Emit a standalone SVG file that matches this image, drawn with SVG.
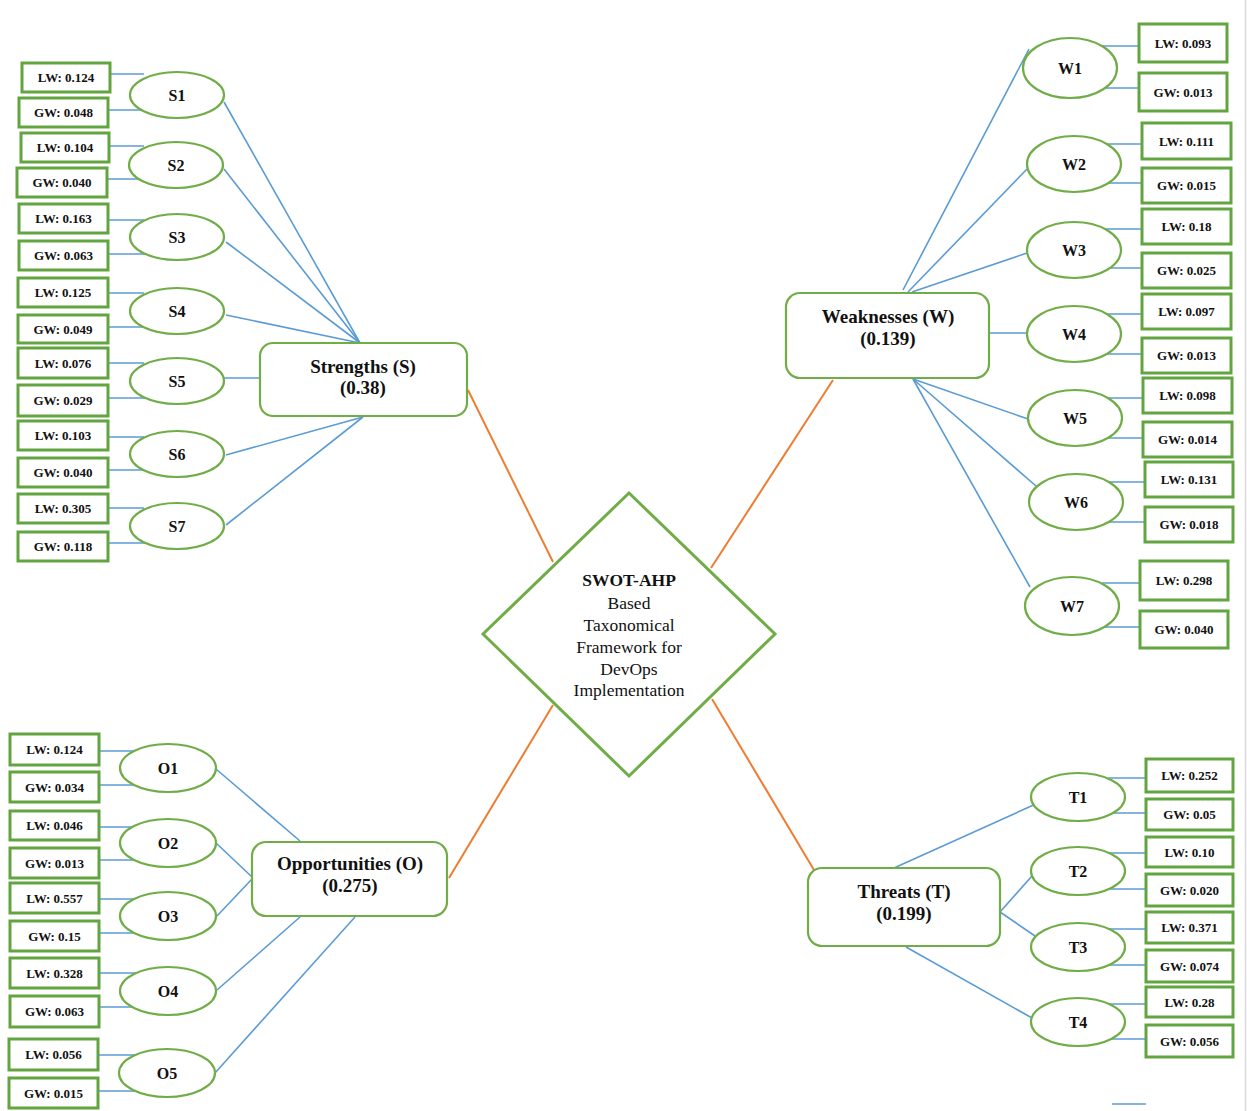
<svg xmlns="http://www.w3.org/2000/svg" width="1247" height="1111" viewBox="0 0 1247 1111">
<style>
.bg{fill:#fff}
.wb{fill:#fff;stroke:#62a540;stroke-width:3}
.wt{font-family:"Liberation Serif",serif;font-weight:bold;font-size:13px;fill:#111;text-anchor:middle}
.el{fill:#fff;stroke:#70AD47;stroke-width:2.2}
.et{font-family:"Liberation Serif",serif;font-weight:bold;font-size:16px;fill:#111;text-anchor:middle}
.mb{fill:#fff;stroke:#70AD47;stroke-width:2.2}
.mt{font-family:"Liberation Serif",serif;font-weight:bold;font-size:19px;fill:#111;text-anchor:middle}
.dt{font-family:"Liberation Serif",serif;font-size:17.5px;fill:#111;text-anchor:middle}
.bl{stroke:#5B9BD5;stroke-width:1.6;fill:none}
.or{stroke:#ED7D31;stroke-width:2;fill:none}
</style>
<rect class="bg" x="0" y="0" width="1247" height="1111"/>
<line x1="1245.5" y1="0" x2="1245.5" y2="1111" stroke="#d9d9d9" stroke-width="1.5"/>
<g id="connectors">
<line class="or" x1="468" y1="390" x2="553" y2="562"/>
<line class="or" x1="833" y1="380" x2="711" y2="568"/>
<line class="or" x1="553" y1="705" x2="449" y2="878"/>
<line class="or" x1="712" y1="699" x2="814" y2="870"/>
<line class="bl" x1="224" y1="102" x2="360" y2="343"/>
<line class="bl" x1="224" y1="169" x2="360" y2="343"/>
<line class="bl" x1="226" y1="242" x2="360" y2="343"/>
<line class="bl" x1="226" y1="315" x2="360" y2="343"/>
<line class="bl" x1="224" y1="378" x2="262" y2="378"/>
<line class="bl" x1="226" y1="455" x2="363" y2="417"/>
<line class="bl" x1="226" y1="525" x2="363" y2="417"/>
<line class="bl" x1="108" y1="74" x2="144" y2="74"/>
<line class="bl" x1="108" y1="110" x2="146" y2="110"/>
<line class="bl" x1="108" y1="146" x2="144" y2="146"/>
<line class="bl" x1="106" y1="179" x2="146" y2="179"/>
<line class="bl" x1="108" y1="220" x2="144" y2="220"/>
<line class="bl" x1="108" y1="254" x2="146" y2="254"/>
<line class="bl" x1="108" y1="293" x2="144" y2="293"/>
<line class="bl" x1="108" y1="327" x2="146" y2="327"/>
<line class="bl" x1="108" y1="363" x2="144" y2="363"/>
<line class="bl" x1="108" y1="398" x2="146" y2="398"/>
<line class="bl" x1="108" y1="437" x2="144" y2="437"/>
<line class="bl" x1="108" y1="470" x2="146" y2="470"/>
<line class="bl" x1="108" y1="508" x2="144" y2="508"/>
<line class="bl" x1="108" y1="543" x2="146" y2="543"/>
<line class="bl" x1="1029" y1="49" x2="903" y2="290"/>
<line class="bl" x1="1027" y1="169" x2="908" y2="292"/>
<line class="bl" x1="1027" y1="253" x2="912" y2="292"/>
<line class="bl" x1="1027" y1="333" x2="988" y2="333"/>
<line class="bl" x1="913" y1="379" x2="1031" y2="420"/>
<line class="bl" x1="913" y1="379" x2="1036" y2="486"/>
<line class="bl" x1="913" y1="379" x2="1030" y2="587"/>
<line class="bl" x1="1100" y1="46" x2="1139" y2="46"/>
<line class="bl" x1="1100" y1="88" x2="1139" y2="88"/>
<line class="bl" x1="1104" y1="144" x2="1142" y2="144"/>
<line class="bl" x1="1104" y1="183" x2="1142" y2="183"/>
<line class="bl" x1="1104" y1="229" x2="1142" y2="229"/>
<line class="bl" x1="1104" y1="268" x2="1142" y2="268"/>
<line class="bl" x1="1104" y1="314" x2="1142" y2="314"/>
<line class="bl" x1="1104" y1="354" x2="1142" y2="354"/>
<line class="bl" x1="1105" y1="398" x2="1143" y2="398"/>
<line class="bl" x1="1105" y1="438" x2="1143" y2="438"/>
<line class="bl" x1="1106" y1="482" x2="1145" y2="482"/>
<line class="bl" x1="1106" y1="522" x2="1145" y2="522"/>
<line class="bl" x1="1102" y1="583" x2="1140" y2="583"/>
<line class="bl" x1="1102" y1="627" x2="1140" y2="627"/>
<line class="bl" x1="216" y1="769" x2="300" y2="841"/>
<line class="bl" x1="216" y1="843" x2="252" y2="877"/>
<line class="bl" x1="217" y1="916" x2="252" y2="879"/>
<line class="bl" x1="217" y1="990" x2="300" y2="917"/>
<line class="bl" x1="215" y1="1073" x2="355" y2="917"/>
<line class="bl" x1="99" y1="751" x2="136" y2="751"/>
<line class="bl" x1="99" y1="785" x2="138" y2="785"/>
<line class="bl" x1="99" y1="827" x2="136" y2="827"/>
<line class="bl" x1="99" y1="860" x2="138" y2="860"/>
<line class="bl" x1="99" y1="899" x2="136" y2="899"/>
<line class="bl" x1="99" y1="933" x2="138" y2="933"/>
<line class="bl" x1="99" y1="973" x2="136" y2="973"/>
<line class="bl" x1="99" y1="1007" x2="138" y2="1007"/>
<line class="bl" x1="98" y1="1055" x2="135" y2="1055"/>
<line class="bl" x1="98" y1="1091" x2="137" y2="1091"/>
<line class="bl" x1="894" y1="868" x2="1038" y2="803"/>
<line class="bl" x1="1000" y1="912" x2="1032" y2="876"/>
<line class="bl" x1="1000" y1="912" x2="1035" y2="936"/>
<line class="bl" x1="906" y1="947" x2="1032" y2="1018"/>
<line class="bl" x1="1108" y1="778" x2="1146" y2="778"/>
<line class="bl" x1="1108" y1="813" x2="1146" y2="813"/>
<line class="bl" x1="1108" y1="853" x2="1146" y2="853"/>
<line class="bl" x1="1108" y1="889" x2="1146" y2="889"/>
<line class="bl" x1="1108" y1="929" x2="1146" y2="929"/>
<line class="bl" x1="1108" y1="965" x2="1146" y2="965"/>
<line class="bl" x1="1108" y1="1004" x2="1146" y2="1004"/>
<line class="bl" x1="1108" y1="1039" x2="1146" y2="1039"/>
<line class="bl" x1="1112" y1="1104" x2="1146" y2="1104"/>
</g>

<g id="center">
<polygon points="629,493 775,634 629,776 483,634" fill="#fff" stroke="#70AD47" stroke-width="3"/>
<text class="dt" x="629" y="586" font-weight="bold" font-size="18.5">SWOT-AHP</text>
<text class="dt" x="629" y="609">Based</text>
<text class="dt" x="629" y="631">Taxonomical</text>
<text class="dt" x="629" y="653">Framework for</text>
<text class="dt" x="629" y="675">DevOps</text>
<text class="dt" x="629" y="696">Implementation</text>
</g>

<g id="strengths"><rect class="mb" x="260" y="343" width="207" height="73" rx="13"/><text class="mt" x="363" y="373">Strengths (S)</text><text class="mt" x="363" y="394">(0.38)</text></g>
<g id="weaknesses"><rect class="mb" x="786" y="293" width="203" height="85" rx="14"/><text class="mt" x="888" y="323">Weaknesses (W)</text><text class="mt" x="888" y="345">(0.139)</text></g>
<g id="opportunities"><rect class="mb" x="252" y="842" width="195" height="74" rx="14"/><text class="mt" x="350" y="870">Opportunities (O)</text><text class="mt" x="350" y="892">(0.275)</text></g>
<g id="threats"><rect class="mb" x="808" y="868" width="192" height="78" rx="14"/><text class="mt" x="904" y="898">Threats (T)</text><text class="mt" x="904" y="920">(0.199)</text></g>

<g id="S1"><ellipse class="el" cx="177" cy="95" rx="47" ry="23"/><text class="et" x="177" y="101">S1</text></g>
<g id="S2"><ellipse class="el" cx="176" cy="165" rx="47" ry="23"/><text class="et" x="176" y="171">S2</text></g>
<g id="S3"><ellipse class="el" cx="177" cy="237" rx="47" ry="23"/><text class="et" x="177" y="243">S3</text></g>
<g id="S4"><ellipse class="el" cx="177" cy="311" rx="47" ry="23"/><text class="et" x="177" y="317">S4</text></g>
<g id="S5"><ellipse class="el" cx="177" cy="381" rx="47" ry="23"/><text class="et" x="177" y="387">S5</text></g>
<g id="S6"><ellipse class="el" cx="177" cy="454" rx="47" ry="23"/><text class="et" x="177" y="460">S6</text></g>
<g id="S7"><ellipse class="el" cx="177" cy="526" rx="47" ry="23"/><text class="et" x="177" y="532">S7</text></g>

<g id="W1"><ellipse class="el" cx="1070" cy="68" rx="47" ry="30"/><text class="et" x="1070" y="74">W1</text></g>
<g id="W2"><ellipse class="el" cx="1074" cy="164" rx="47" ry="28"/><text class="et" x="1074" y="170">W2</text></g>
<g id="W3"><ellipse class="el" cx="1074" cy="250" rx="47" ry="28"/><text class="et" x="1074" y="256">W3</text></g>
<g id="W4"><ellipse class="el" cx="1074" cy="334" rx="47" ry="28"/><text class="et" x="1074" y="340">W4</text></g>
<g id="W5"><ellipse class="el" cx="1075" cy="418" rx="47" ry="28"/><text class="et" x="1075" y="424">W5</text></g>
<g id="W6"><ellipse class="el" cx="1076" cy="502" rx="47" ry="28"/><text class="et" x="1076" y="508">W6</text></g>
<g id="W7"><ellipse class="el" cx="1072" cy="606" rx="47" ry="29"/><text class="et" x="1072" y="612">W7</text></g>

<g id="O1"><ellipse class="el" cx="168" cy="768" rx="48" ry="24"/><text class="et" x="168" y="774">O1</text></g>
<g id="O2"><ellipse class="el" cx="168" cy="843" rx="48" ry="24"/><text class="et" x="168" y="849">O2</text></g>
<g id="O3"><ellipse class="el" cx="168" cy="916" rx="48" ry="24"/><text class="et" x="168" y="922">O3</text></g>
<g id="O4"><ellipse class="el" cx="168" cy="991" rx="48" ry="24"/><text class="et" x="168" y="997">O4</text></g>
<g id="O5"><ellipse class="el" cx="167" cy="1073" rx="48" ry="24"/><text class="et" x="167" y="1079">O5</text></g>

<g id="T1"><ellipse class="el" cx="1078" cy="797" rx="47" ry="24"/><text class="et" x="1078" y="803">T1</text></g>
<g id="T2"><ellipse class="el" cx="1078" cy="871" rx="47" ry="24"/><text class="et" x="1078" y="877">T2</text></g>
<g id="T3"><ellipse class="el" cx="1078" cy="947" rx="47" ry="24"/><text class="et" x="1078" y="953">T3</text></g>
<g id="T4"><ellipse class="el" cx="1078" cy="1022" rx="47" ry="24"/><text class="et" x="1078" y="1028">T4</text></g>

<g id="S1-LW"><rect class="wb" x="22" y="63" width="88" height="29"/><text class="wt" x="66" y="82">LW: 0.124</text></g>
<g id="S1-GW"><rect class="wb" x="19" y="98" width="89" height="29"/><text class="wt" x="63.5" y="117">GW: 0.048</text></g>
<g id="S2-LW"><rect class="wb" x="21" y="133" width="88" height="29"/><text class="wt" x="65" y="152">LW: 0.104</text></g>
<g id="S2-GW"><rect class="wb" x="17" y="168" width="90" height="29"/><text class="wt" x="62" y="187">GW: 0.040</text></g>
<g id="S3-LW"><rect class="wb" x="19" y="204" width="89" height="29"/><text class="wt" x="63.5" y="223">LW: 0.163</text></g>
<g id="S3-GW"><rect class="wb" x="19" y="241" width="89" height="29"/><text class="wt" x="63.5" y="260">GW: 0.063</text></g>
<g id="S4-LW"><rect class="wb" x="18" y="278" width="90" height="29"/><text class="wt" x="63" y="297">LW: 0.125</text></g>
<g id="S4-GW"><rect class="wb" x="18" y="315" width="90" height="28"/><text class="wt" x="63" y="333.5">GW: 0.049</text></g>
<g id="S5-LW"><rect class="wb" x="18" y="348" width="90" height="30"/><text class="wt" x="63" y="367.5">LW: 0.076</text></g>
<g id="S5-GW"><rect class="wb" x="18" y="385" width="90" height="31"/><text class="wt" x="63" y="405">GW: 0.029</text></g>
<g id="S6-LW"><rect class="wb" x="18" y="421" width="90" height="29"/><text class="wt" x="63" y="440">LW: 0.103</text></g>
<g id="S6-GW"><rect class="wb" x="18" y="458" width="90" height="29"/><text class="wt" x="63" y="477">GW: 0.040</text></g>
<g id="S7-LW"><rect class="wb" x="18" y="494" width="90" height="29"/><text class="wt" x="63" y="513">LW: 0.305</text></g>
<g id="S7-GW"><rect class="wb" x="18" y="532" width="90" height="29"/><text class="wt" x="63" y="551">GW: 0.118</text></g>

<g id="W1-LW"><rect class="wb" x="1139" y="24" width="88" height="38"/><text class="wt" x="1183" y="47.5">LW: 0.093</text></g>
<g id="W1-GW"><rect class="wb" x="1139" y="73" width="88" height="38"/><text class="wt" x="1183" y="96.5">GW: 0.013</text></g>
<g id="W2-LW"><rect class="wb" x="1142" y="123" width="89" height="36"/><text class="wt" x="1186.5" y="145.5">LW: 0.111</text></g>
<g id="W2-GW"><rect class="wb" x="1142" y="168" width="89" height="35"/><text class="wt" x="1186.5" y="190">GW: 0.015</text></g>
<g id="W3-LW"><rect class="wb" x="1142" y="209" width="89" height="35"/><text class="wt" x="1186.5" y="231">LW: 0.18</text></g>
<g id="W3-GW"><rect class="wb" x="1142" y="253" width="89" height="35"/><text class="wt" x="1186.5" y="275">GW: 0.025</text></g>
<g id="W4-LW"><rect class="wb" x="1142" y="294" width="89" height="35"/><text class="wt" x="1186.5" y="316">LW: 0.097</text></g>
<g id="W4-GW"><rect class="wb" x="1142" y="338" width="89" height="35"/><text class="wt" x="1186.5" y="360">GW: 0.013</text></g>
<g id="W5-LW"><rect class="wb" x="1143" y="378" width="89" height="35"/><text class="wt" x="1187.5" y="400">LW: 0.098</text></g>
<g id="W5-GW"><rect class="wb" x="1143" y="422" width="89" height="35"/><text class="wt" x="1187.5" y="444">GW: 0.014</text></g>
<g id="W6-LW"><rect class="wb" x="1145" y="462" width="88" height="35"/><text class="wt" x="1189" y="484">LW: 0.131</text></g>
<g id="W6-GW"><rect class="wb" x="1145" y="507" width="88" height="35"/><text class="wt" x="1189" y="529">GW: 0.018</text></g>
<g id="W7-LW"><rect class="wb" x="1140" y="561" width="88" height="39"/><text class="wt" x="1184" y="585">LW: 0.298</text></g>
<g id="W7-GW"><rect class="wb" x="1140" y="611" width="88" height="37"/><text class="wt" x="1184" y="634">GW: 0.040</text></g>

<g id="O1-LW"><rect class="wb" x="10" y="734" width="89" height="31"/><text class="wt" x="54.5" y="754">LW: 0.124</text></g>
<g id="O1-GW"><rect class="wb" x="10" y="772" width="89" height="30"/><text class="wt" x="54.5" y="791.5">GW: 0.034</text></g>
<g id="O2-LW"><rect class="wb" x="10" y="811" width="89" height="29"/><text class="wt" x="54.5" y="830">LW: 0.046</text></g>
<g id="O2-GW"><rect class="wb" x="10" y="848" width="89" height="30"/><text class="wt" x="54.5" y="867.5">GW: 0.013</text></g>
<g id="O3-LW"><rect class="wb" x="10" y="883" width="89" height="30"/><text class="wt" x="54.5" y="902.5">LW: 0.557</text></g>
<g id="O3-GW"><rect class="wb" x="10" y="921" width="89" height="30"/><text class="wt" x="54.5" y="940.5">GW: 0.15</text></g>
<g id="O4-LW"><rect class="wb" x="10" y="958" width="89" height="30"/><text class="wt" x="54.5" y="977.5">LW: 0.328</text></g>
<g id="O4-GW"><rect class="wb" x="10" y="996" width="89" height="31"/><text class="wt" x="54.5" y="1016">GW: 0.063</text></g>
<g id="O5-LW"><rect class="wb" x="9" y="1039" width="89" height="31"/><text class="wt" x="53.5" y="1059">LW: 0.056</text></g>
<g id="O5-GW"><rect class="wb" x="9" y="1078" width="89" height="30"/><text class="wt" x="53.5" y="1097.5">GW: 0.015</text></g>

<g id="T1-LW"><rect class="wb" x="1146" y="759" width="87" height="33"/><text class="wt" x="1189.5" y="780">LW: 0.252</text></g>
<g id="T1-GW"><rect class="wb" x="1146" y="799" width="87" height="31"/><text class="wt" x="1189.5" y="819">GW: 0.05</text></g>
<g id="T2-LW"><rect class="wb" x="1146" y="837" width="87" height="30"/><text class="wt" x="1189.5" y="856.5">LW: 0.10</text></g>
<g id="T2-GW"><rect class="wb" x="1146" y="874" width="87" height="32"/><text class="wt" x="1189.5" y="894.5">GW: 0.020</text></g>
<g id="T3-LW"><rect class="wb" x="1146" y="912" width="87" height="31"/><text class="wt" x="1189.5" y="932">LW: 0.371</text></g>
<g id="T3-GW"><rect class="wb" x="1146" y="950" width="87" height="32"/><text class="wt" x="1189.5" y="970.5">GW: 0.074</text></g>
<g id="T4-LW"><rect class="wb" x="1146" y="987" width="87" height="30"/><text class="wt" x="1189.5" y="1006.5">LW: 0.28</text></g>
<g id="T4-GW"><rect class="wb" x="1146" y="1025" width="87" height="32"/><text class="wt" x="1189.5" y="1045.5">GW: 0.056</text></g>
</svg>
